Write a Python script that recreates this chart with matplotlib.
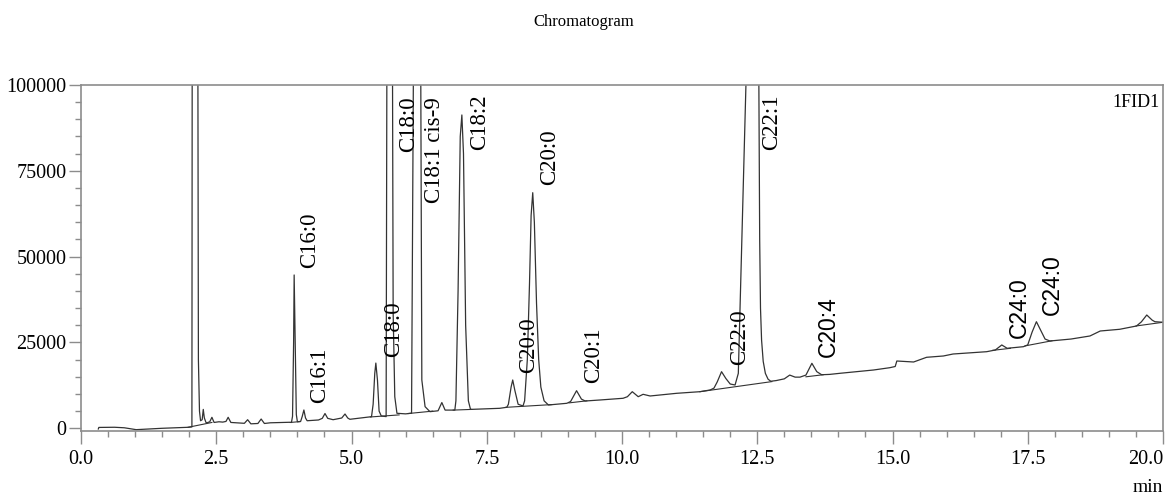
import numpy as np
import matplotlib.pyplot as plt
from matplotlib.ticker import MultipleLocator

# trace (retention time in min, signal)
t = [0.32, 0.33, 0.62, 0.80, 1.02, 1.50, 1.98, 2.05, 2.06, 2.15, 2.17, 2.19, 2.21,
     2.24, 2.26, 2.28, 2.31, 2.33, 2.38, 2.42, 2.46, 2.55, 2.62, 2.68, 2.72, 2.77,
     3.02, 3.08, 3.14, 3.27, 3.33, 3.39, 3.50, 3.85, 3.89, 3.91, 3.93, 3.94, 3.96,
     3.98, 4.00, 4.06, 4.09, 4.12, 4.15, 4.18, 4.39, 4.46, 4.51, 4.56, 4.66, 4.82,
     4.88, 4.93, 4.97, 5.37, 5.40, 5.43, 5.45, 5.48, 5.51, 5.55, 5.60, 5.64, 5.66,
     5.75, 5.77, 5.80, 5.84, 6.00, 6.11, 6.16, 6.27, 6.30, 6.36, 6.45, 6.60, 6.67,
     6.73, 6.91, 6.93, 6.97, 7.01, 7.04, 7.07, 7.11, 7.16, 7.20, 7.74, 7.87, 7.90,
     7.95, 7.98, 8.02, 8.08, 8.17, 8.20, 8.25, 8.29, 8.32, 8.35, 8.38, 8.42, 8.46,
     8.50, 8.56, 8.64, 8.98, 9.05, 9.16, 9.25, 9.32, 9.59, 10.02, 10.10, 10.19,
     10.30, 10.39, 10.52, 11.01, 11.44, 11.63, 11.70, 11.76, 11.84, 11.92, 12.00,
     12.09, 12.15, 12.29, 12.41, 12.53, 12.545, 12.56, 12.58, 12.61, 12.65, 12.70,
     12.75, 12.85, 13.00, 13.10, 13.20, 13.29, 13.40, 13.51, 13.60, 13.69, 13.84,
     14.03, 14.65, 14.95, 15.05, 15.08, 15.39, 15.63, 15.94, 16.12, 16.74, 16.90,
     17.02, 17.12, 17.42, 17.50, 17.58, 17.66, 17.74, 17.82, 17.91, 18.30, 18.65,
     18.84, 19.20, 19.51, 19.60, 19.70, 19.80, 19.85, 20.00]
signal = [-200, 250, 300, 150, -400, 0, 290, 400, 200000, 200000, 20000, 5000, 2200,
          2500, 5500, 3000, 1700, 1600, 1900, 3200, 1700, 1900, 1800, 2000, 3200, 1700,
          1450, 2500, 1300, 1400, 2700, 1400, 1600, 1750, 1700, 3500, 25000, 44660, 25000,
          4000, 1900, 2000, 3500, 5330, 3000, 2200, 2420, 2900, 4300, 2900, 2500, 3000,
          4160, 3000, 2620, 3380, 7000, 16000, 19000, 14000, 5000, 3600, 3500, 3400, 150000,
          150000, 33600, 9200, 4370, 4200, 4400, 150000, 150000, 14070, 6300, 4840, 5100, 7500,
          5300, 5300, 8000, 40000, 85000, 91270, 80000, 30000, 8000, 5500, 5820, 6120, 7000,
          12000, 14070, 11000, 7000, 6500, 8000, 20000, 42000, 62000, 68630, 60000, 36400,
          20000, 12000, 8000, 6790, 7280, 7800, 10950, 8500, 7950, 8240, 8740, 9200, 10660,
          9200, 9900, 9410, 10190, 10660, 11160, 11700, 13500, 16490, 14500, 12900,
          12610, 16000, 99500, 300000, 100000, 55000, 35000, 25700, 19500, 16000, 14300,
          13700, 13900, 14400, 15500, 14900, 14900, 15500, 18930, 16500, 15600, 15700,
          16020, 16980, 17650, 18000, 19600, 19310, 20680, 21060, 21640, 22310, 22800,
          24270, 23300, 23770, 24300, 28000, 31050, 28500, 26000, 25430, 26000, 26890,
          28340, 28840, 29800, 31000, 33000, 31500, 31050, 30880]

# integration baselines: (t_start, y_start, t_end, y_end)
bl_t0 = [1.98, 3.87, 5.35, 6.05, 6.88, 7.85, 9.02, 11.44, 13.40, 16.85, 17.45, 19.50]
bl_y0 = [290, 1700, 3300, 4300, 5300, 6100, 7400, 10660, 15000, 22700, 24000, 29800]
bl_t1 = [2.42, 4.05, 5.88, 6.50, 7.22, 8.70, 9.35, 12.77, 13.72, 17.18, 17.95, 20.00]
bl_y1 = [1700, 1950, 3900, 5000, 5500, 6900, 8000, 13600, 15600, 23300, 25500, 30880]

# peak labels
lab_text = ['C16:0', 'C16:1', 'C18:0', 'C18:0', 'C18:1 cis-9', 'C18:2', 'C20:0', 'C20:0',
            'C20:1', 'C22:0', 'C22:1', 'C20:4', 'C24:0', 'C24:0']
lab_t = [4.23, 4.42, 5.77, 6.05, 6.54, 7.36, 8.27, 8.66, 9.47, 12.17, 12.77, 13.81, 17.34, 17.96]
lab_y = [46600, 7280, 20860, 80570, 65540, 81070, 16020, 70870, 13110, 18440, 81070,
         20860, 26220, 33000]
lab_sans = [False] * 11 + [True, True, True]

serif = ['Liberation Serif', 'DejaVu Serif']
sans = ['Liberation Sans', 'DejaVu Sans']
plt.rcParams['font.family'] = serif

fig = plt.figure(figsize=(11.68, 4.98), dpi=100)
ax = fig.add_axes([81/1168, 1-431/498, 1082/1168, 346/498])

ax.plot(t, signal, color='#333333', lw=0.9)
for i in range(len(bl_t0)):
    ax.plot([bl_t0[i], bl_t1[i]], [bl_y0[i], bl_y1[i]], color='#333333', lw=0.8)

for i in range(len(lab_text)):
    ax.text(lab_t[i], lab_y[i], lab_text[i], rotation=90, ha='center', va='bottom',
            fontsize=16.5, family=sans if lab_sans[i] else serif, color='black')

ax.set_xlim(0, 20)
ax.set_ylim(-790, 100000)
ax.set_xticks(np.arange(0, 20.01, 2.5), labels=[f'{v:.1f}' for v in np.arange(0, 20.01, 2.5)])
ax.xaxis.set_minor_locator(MultipleLocator(0.5))
ax.yaxis.set_major_locator(MultipleLocator(25000))
ax.yaxis.set_minor_locator(MultipleLocator(5000))
ax.yaxis.set_major_formatter(lambda v, p: f'{v:.0f}')

for s in ax.spines.values():
    s.set_color('#8c8c8c')
    s.set_linewidth(1.2)
ax.tick_params(which='major', length=9, width=1, color='#8c8c8c', labelsize=14.5)
ax.tick_params(which='minor', length=4.5, width=1, color='#8c8c8c')
ax.tick_params(axis='x', pad=5)
ax.tick_params(axis='y', pad=1.5)

ax.text(0.997, 0.975, '1FID1', transform=ax.transAxes, ha='right', va='top', fontsize=13)
fig.text(0.5, 1-22/498, 'Chromatogram', ha='center', va='center', fontsize=12)
fig.text(1163/1168, 1-487/498, 'min', ha='right', va='center', fontsize=14)

fig.canvas.draw()
ax.get_xticklabels()[-1].set_ha('right')
fig.savefig('out.png', dpi=100)
